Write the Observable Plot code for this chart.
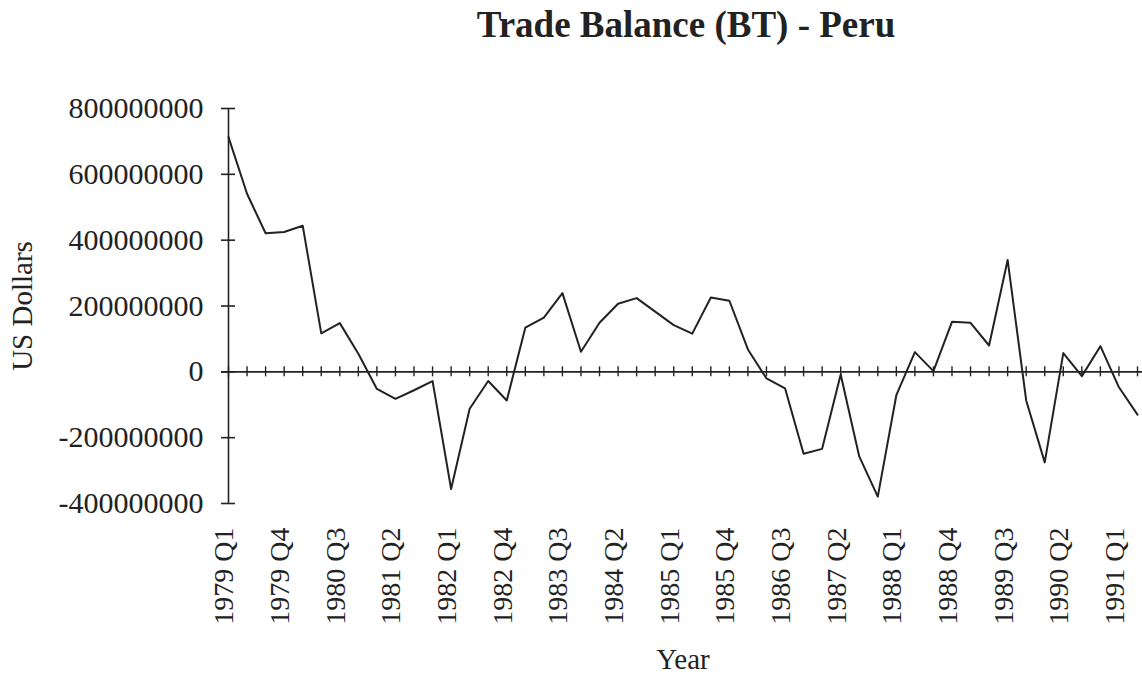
<!DOCTYPE html>
<html><head><meta charset="utf-8">
<script src="https://cdn.jsdelivr.net/npm/d3@7"></script>
<script src="https://cdn.jsdelivr.net/npm/@observablehq/plot@0.6"></script>
<style>body{margin:0;background:#fff}</style>
</head><body><div id="chart"></div>
<script>
const quarters = [
  "1979 Q1","1979 Q2","1979 Q3","1979 Q4",
  "1980 Q1","1980 Q2","1980 Q3","1980 Q4",
  "1981 Q1","1981 Q2","1981 Q3","1981 Q4",
  "1982 Q1","1982 Q2","1982 Q3","1982 Q4",
  "1983 Q1","1983 Q2","1983 Q3","1983 Q4",
  "1984 Q1","1984 Q2","1984 Q3","1984 Q4",
  "1985 Q1","1985 Q2","1985 Q3","1985 Q4",
  "1986 Q1","1986 Q2","1986 Q3","1986 Q4",
  "1987 Q1","1987 Q2","1987 Q3","1987 Q4",
  "1988 Q1","1988 Q2","1988 Q3","1988 Q4",
  "1989 Q1","1989 Q2","1989 Q3","1989 Q4",
  "1990 Q1","1990 Q2","1990 Q3","1990 Q4",
  "1991 Q1","1991 Q2"
];
// Trade balance, millions of US dollars
const balanceMillions = [
  713, 541, 421, 425,
  444, 117, 148, 55,
  -52, -82, -56, -28,
  -356, -112, -28, -87,
  134, 165, 239, 61,
  149, 207, 224, 183,
  142, 116, 226, 216,
  68, -20, -50, -249,
  -234, -8, -257, -379,
  -71, 60, 2, 152,
  149, 80, 340, -87,
  -275, 57, -13, 78,
  -47, -130
];
const xTickLabels = [
  "1979 Q1","1979 Q4","1980 Q3","1981 Q2","1982 Q1","1982 Q4","1983 Q3",
  "1984 Q2","1985 Q1","1985 Q4","1986 Q3","1987 Q2","1988 Q1","1988 Q4",
  "1989 Q3","1990 Q2","1991 Q1"
];
const yTicks = [-400000000, -200000000, 0, 200000000, 400000000, 600000000, 800000000];
const titleText = "Trade Balance (BT) - Peru";
const yLabel = "US Dollars";
const xLabel = "Year";

const idx = q => quarters.indexOf(q);
const data = quarters.map((q, i) => ({i, q, v: balanceMillions[i] * 1e6}));
const font = '"Liberation Serif","Times New Roman",serif';
const ink = "#222";

const chart = Plot.plot({
  width: 1142, height: 675,
  marginTop: 108, marginBottom: 172, marginLeft: 228, marginRight: 5,
  style: {fontFamily: font, background: "#fff", color: ink},
  x: {type: "linear", domain: [0, quarters.length - 1]},
  y: {domain: [-400e6, 800e6]},
  marks: [
    Plot.axisY({ticks: yTicks, tickSize: 0, tickPadding: 25, tickFormat: d => String(d), fontSize: 30, label: null, fill: ink}),
    Plot.axisX({ticks: xTickLabels.map(idx), tickFormat: i => quarters[i], tickSize: 0, tickPadding: 24, tickRotate: -90, dx: -4, fontSize: 28, label: null, fill: ink}),
    Plot.ruleX([0], {stroke: ink, strokeWidth: 1.6}),
    Plot.ruleY([0], {stroke: ink, strokeWidth: 1.6, insetLeft: -7, insetRight: -5}),
    Plot.ruleY(yTicks, {y: d => d, x1: 0, x2: 0, insetLeft: -7, insetRight: -7, stroke: ink, strokeWidth: 1.6}),
    Plot.ruleX(quarters.map((q, i) => i), {x: d => d, y1: 0, y2: 0, insetTop: -5, insetBottom: -5, stroke: ink, strokeWidth: 1.4}),
    Plot.lineY(data, {x: "i", y: "v", stroke: ink, strokeWidth: 2}),
    Plot.text([titleText], {text: d => d, frameAnchor: "top", dx: 3, dy: -72, lineAnchor: "bottom", fontSize: 37, fontWeight: "bold", fill: ink}),
    Plot.text([yLabel], {text: d => d, frameAnchor: "left", dx: -206, rotate: -90, textAnchor: "middle", lineAnchor: "middle", fontSize: 29, fill: ink}),
    Plot.text([xLabel], {text: d => d, frameAnchor: "bottom", dy: 165, lineAnchor: "bottom", fontSize: 29, fill: ink})
  ]
});
document.getElementById("chart").appendChild(chart);
</script>
</body></html>
